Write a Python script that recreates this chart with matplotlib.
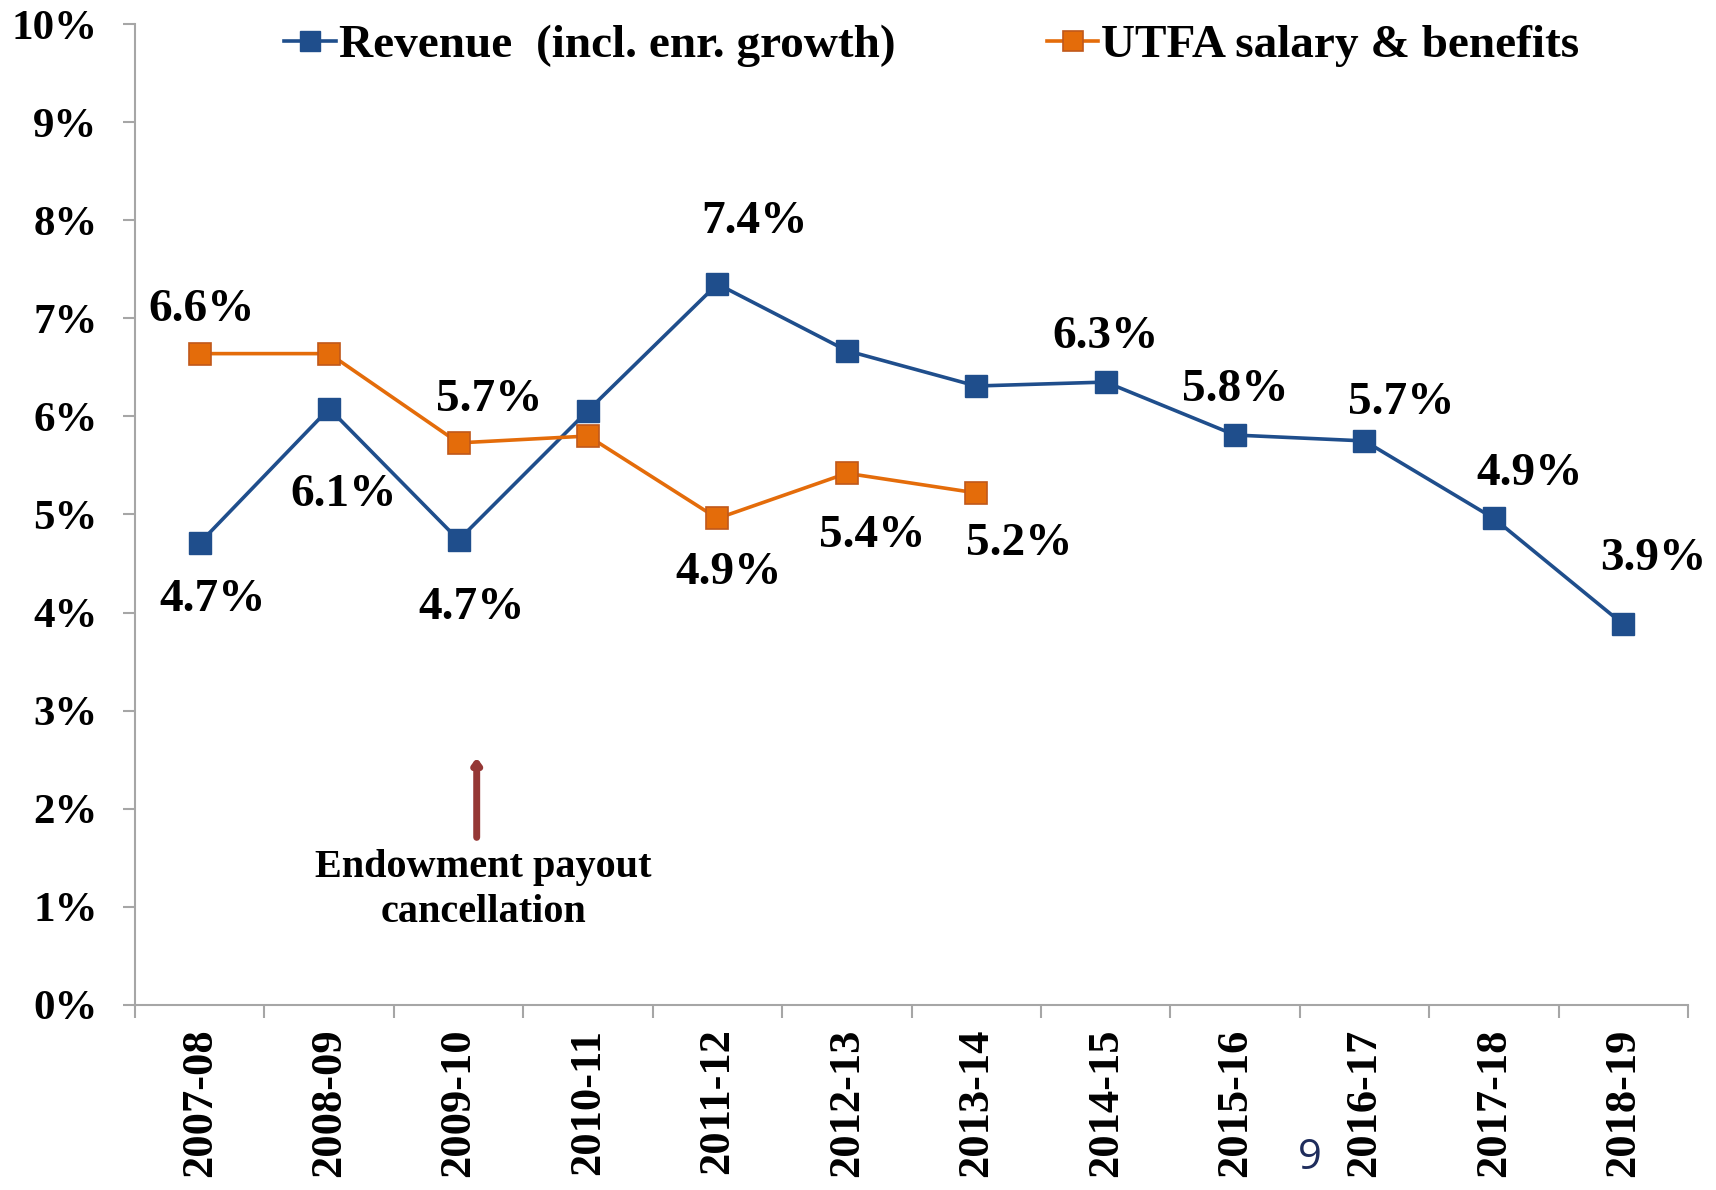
import matplotlib
import matplotlib.pyplot as plt
from matplotlib.ticker import FixedLocator, FuncFormatter

matplotlib.use('agg')

years = ['2007-08', '2008-09', '2009-10', '2010-11', '2011-12', '2012-13',
         '2013-14', '2014-15', '2015-16', '2016-17', '2017-18', '2018-19']
revenue = [4.71, 6.08, 4.74, 6.06, 7.35, 6.67, 6.31, 6.35, 5.81, 5.75, 4.96, 3.88]
utfa = [6.64, 6.64, 5.73, 5.80, 4.96, 5.42, 5.22]
revenue_labels = ['4.7%', '6.1%', '4.7%', None, '7.4%', None, None,
                  '6.3%', '5.8%', '5.7%', '4.9%', '3.9%']
utfa_labels = ['6.6%', None, '5.7%', None, '4.9%', '5.4%', '5.2%']

# label offsets in pixels (dx, dy) from each point
rev_off = [(13, -57), (14, -86), (13, -68), None, (37, 62), None, None,
           (0, 45), (0, 45), (37, 38), (36, 44), (30, 65)]
utfa_off = [(2, 44), None, (31, 43), None, (11, -55), (25, -63), (43, -51)]

BLUE = '#1F4E8C'
ORANGE = '#E46C0A'
FONT = 'Liberation Serif'

plt.rcParams['font.family'] = FONT
plt.rcParams['font.weight'] = 'bold'

fig = plt.figure(figsize=(17.16, 11.90), dpi=100)
ax = fig.add_axes([0.0787, 0.1555, 0.9050, 0.8243])

x = list(range(len(years)))
ax.plot(x, revenue, color=BLUE, lw=2.6, marker='s', ms=15.5,
        mfc=BLUE, mec=BLUE, label='Revenue  (incl. enr. growth)', zorder=3)
ax.plot(x[:len(utfa)], utfa, color=ORANGE, lw=2.6, marker='s', ms=15.5,
        mfc=ORANGE, mec='#C0581A', mew=1.2, label='UTFA salary & benefits', zorder=3)

for i, (v, lab) in enumerate(zip(revenue, revenue_labels)):
    if lab:
        ax.annotate(lab, (i, v), xytext=rev_off[i], textcoords='offset pixels',
                    ha='center', va='center', fontsize=34, fontweight='bold')
for i, (v, lab) in enumerate(zip(utfa, utfa_labels)):
    if lab:
        ax.annotate(lab, (i, v), xytext=utfa_off[i], textcoords='offset pixels',
                    ha='center', va='center', fontsize=34, fontweight='bold')

# endowment payout note
ax.annotate('', xy=(2.14, 2.55), xytext=(2.14, 1.68),
            arrowprops=dict(arrowstyle='-|>,head_width=0.22,head_length=0.3',
                            color='#953735', lw=5))
ax.text(2.19, 1.17, 'Endowment payout\ncancellation', ha='center', va='center',
        fontsize=29, fontweight='bold', linespacing=1.28)

ax.set_xlim(-0.5, len(years) - 0.5)
ax.set_ylim(0, 10)
ax.set_yticks(range(0, 11))
ax.yaxis.set_major_formatter(FuncFormatter(lambda v, p: f'{int(v)}%'))
ax.set_xticks(x)
ax.set_xticklabels(years, rotation=90, fontsize=32, fontweight='bold')
ax.xaxis.set_minor_locator(FixedLocator([i - 0.5 for i in range(len(years) + 1)]))
ax.tick_params(axis='x', which='major', length=0, pad=17)
ax.tick_params(axis='x', which='minor', length=9, color='#A6A6A6', width=1.5)
ax.tick_params(axis='y', length=9, color='#A6A6A6', width=1.5, pad=18, labelsize=31)
for lab in ax.get_yticklabels():
    lab.set_fontweight('bold')

for s in ['top', 'right']:
    ax.spines[s].set_visible(False)
for s in ['left', 'bottom']:
    ax.spines[s].set_color('#A6A6A6')
    ax.spines[s].set_linewidth(1.5)

ax.legend(loc='center', bbox_to_anchor=(0.513, 0.978), ncol=2, frameon=False,
          prop={'family': FONT, 'weight': 'bold', 'size': 34},
          handlelength=1.1, handletextpad=0.05, columnspacing=3.2, markerscale=0.95)

fig.text(1310 / 1716, 1 - 1158 / 1190, '9', ha='center', va='center',
         fontsize=30, color='#1F2D5C', family='Open Sans', fontweight='normal')

fig.savefig('out.png', dpi=100)
